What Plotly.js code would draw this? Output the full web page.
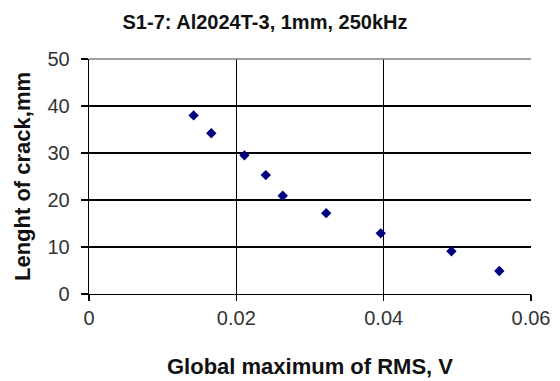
<!DOCTYPE html>
<html>
<head>
<meta charset="utf-8">
<script src="https://cdn.plot.ly/plotly-3.0.1.min.js"></script>
<style>html,body{margin:0;padding:0;background:#fff;}#chart{width:560px;height:381px;}</style>
</head>
<body>
<div id="chart"></div>
<script>
const rmsMax = [0.0142, 0.0166, 0.0211, 0.0240, 0.0263, 0.0322, 0.0396, 0.0492, 0.0557];
const crackLength = [38.0, 34.2, 29.5, 25.3, 20.9, 17.2, 12.9, 9.1, 4.9];
const xTicks = [0, 0.02, 0.04, 0.06];
const xTickLabels = ['0', '0.02', '0.04', '0.06'];
const yTicks = [0, 10, 20, 30, 40, 50];

const font = 'Liberation Sans, Arial, sans-serif';

const trace = {
  x: rmsMax, y: crackLength, type: 'scatter', mode: 'markers',
  marker: {symbol: 'diamond', size: 8, color: '#000080', line: {width: 0}},
  cliponaxis: false, showlegend: false, hoverinfo: 'skip'
};

const layout = {
  width: 560, height: 381,
  margin: {l: 89, r: 29, t: 59, b: 87},
  paper_bgcolor: '#fff', plot_bgcolor: '#fff',
  title: {text: '<b>S1-7: Al2024T-3, 1mm, 250kHz</b>', font: {family: font, size: 20, color: '#111'},
    x: 265/560, xref: 'container', xanchor: 'center', y: 1 - 22/381, yref: 'container', yanchor: 'middle'},
  xaxis: {
    range: [0, 0.06], tickvals: xTicks, ticktext: xTickLabels,
    showgrid: true, gridcolor: '#000', gridwidth: 1.3,
    showline: true, linecolor: '#000', linewidth: 1.3,
    ticks: 'outside', ticklen: 6, tickcolor: '#000', tickwidth: 1.3,
    tickfont: {family: font, size: 20, color: '#333'},
    zeroline: false, fixedrange: true,
    title: {text: '<b>Global maximum of RMS, V</b>', font: {family: font, size: 22, color: '#111'}, standoff: 30}
  },
  yaxis: {
    range: [0, 50], tickvals: yTicks,
    showgrid: true, gridcolor: '#000', gridwidth: 1.3,
    showline: true, linecolor: '#000', linewidth: 1.3,
    ticks: 'outside', ticklen: 7, tickcolor: '#000', tickwidth: 1.3,
    tickfont: {family: font, size: 20, color: '#333'},
    ticklabelstandoff: 7,
    zeroline: false, fixedrange: true,
    title: {text: '<b>Lenght of crack,mm</b>', font: {family: font, size: 22, color: '#111'}, standoff: 10}
  },
  shapes: [
    {type: 'line', xref: 'paper', yref: 'paper', x0: 0, x1: 1, y0: 1, y1: 1, line: {color: '#808080', width: 1.5}, layer: 'above'}
  ]
};

Plotly.newPlot('chart', [trace], layout, {displayModeBar: false, staticPlot: true});
</script>
</body>
</html>
